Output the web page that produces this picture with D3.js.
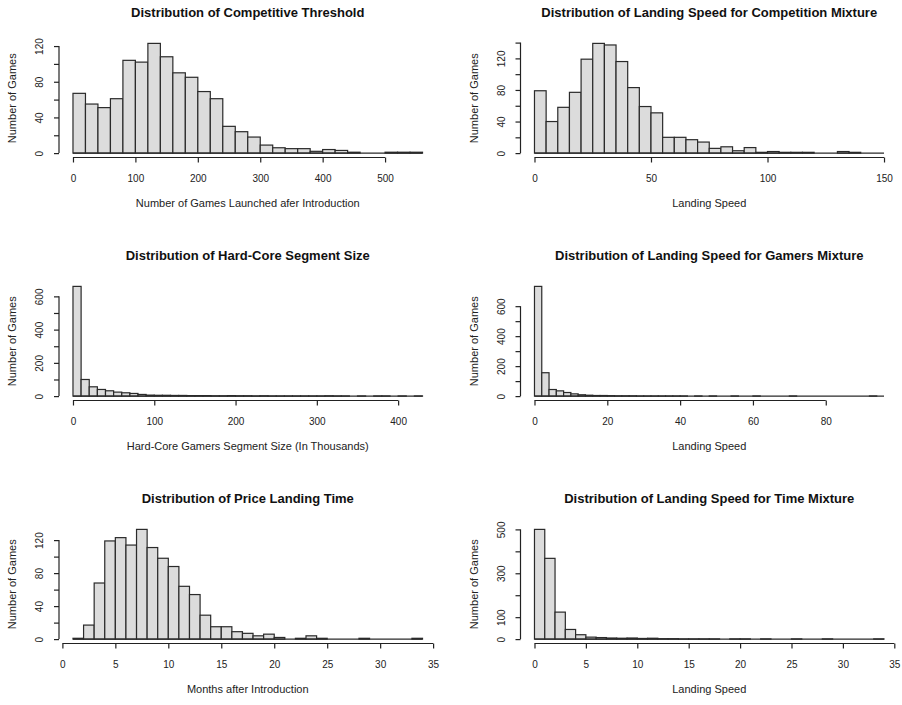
<!DOCTYPE html>
<html>
<head>
<meta charset="utf-8">
<script src="https://cdn.jsdelivr.net/npm/d3@7/dist/d3.min.js"></script>
<style>
  html, body { margin: 0; padding: 0; background: #fff; }
  svg { display: block; font-family: "Liberation Sans", Arial, sans-serif; }
</style>
</head>
<body>
<svg id="chart" width="902" height="705"></svg>
<script>
// ---- Histogram counts (games per bin) ----
const thresholdCounts = [67, 55, 51, 61, 104, 102, 123, 108, 90, 85, 69, 61, 30, 24, 18, 9, 6, 5, 5, 2, 4, 3, 1, 0, 0, 1, 1, 1];
const competitionSpeedCounts = [79, 40, 58, 77, 119, 139, 137, 116, 83, 59, 51, 20, 20, 17, 14, 6, 8, 3, 7, 1, 2, 1, 1, 1, 0, 0, 2, 1, 0, 0];
const hardCoreCounts = [660, 100, 56, 40, 32, 24, 20, 16, 10, 6, 5, 5, 4, 4, 3, 3, 3, 2, 2, 3, 2, 2, 1, 2, 1, 1, 1, 1, 1, 1, 1, 2, 1, 1, 0, 1, 0, 1, 1, 0, 1, 0, 1];
const gamersSpeedCounts = [732, 156, 44, 35, 24, 15, 9, 6, 4, 4, 3, 2, 2, 2, 1, 1, 1, 1, 1, 1, 1, 0, 1, 0, 1, 0, 0, 1, 0, 0, 1, 0, 0, 0, 0, 1, 0, 0, 0, 0, 0, 0, 0, 0, 0, 0, 1, 0];
const landingTimeCounts = [1, 17, 68, 119, 123, 114, 133, 111, 98, 88, 64, 54, 29, 15, 15, 9, 7, 4, 6, 2, 0, 1, 4, 1, 0, 0, 0, 1, 0, 0, 0, 0, 1];
const timeSpeedCounts = [500, 368, 123, 44, 20, 9, 7, 5, 4, 5, 3, 4, 2, 2, 1, 1, 1, 1, 0, 1, 1, 0, 1, 0, 0, 1, 0, 0, 1, 0, 0, 0, 0, 1];

// ---- Bin definitions: [first break, bin width] ----
const thresholdBins = [0, 20];
const competitionSpeedBins = [0, 5];
const hardCoreBins = [0, 10];
const gamersSpeedBins = [0, 2];
const landingTimeBins = [1, 1];
const timeSpeedBins = [0, 1];

// ---- Axis ticks ----
const thresholdXTicks = [0, 100, 200, 300, 400, 500];
const competitionSpeedXTicks = [0, 50, 100, 150];
const hardCoreXTicks = [0, 100, 200, 300, 400];
const gamersSpeedXTicks = [0, 20, 40, 60, 80];
const landingTimeXTicks = [0, 5, 10, 15, 20, 25, 30, 35];
const timeSpeedXTicks = [0, 5, 10, 15, 20, 25, 30, 35];

const thresholdYTicks = [0, 20, 40, 60, 80, 100, 120];
const competitionSpeedYTicks = [0, 20, 40, 60, 80, 100, 120, 140];
const hardCoreYTicks = [0, 100, 200, 300, 400, 500, 600];
const gamersSpeedYTicks = [0, 100, 200, 300, 400, 500, 600];
const landingTimeYTicks = [0, 20, 40, 60, 80, 100, 120];
const timeSpeedYTicks = [0, 100, 200, 300, 400, 500];

const thresholdYLabels = [0, 40, 80, 120];
const competitionSpeedYLabels = [0, 40, 80, 120];
const hardCoreYLabels = [0, 200, 400, 600];
const gamersSpeedYLabels = [0, 200, 400, 600];
const landingTimeYLabels = [0, 40, 80, 120];
const timeSpeedYLabels = [0, 100, 300, 500];

// ---- Titles and axis titles ----
const titles = [
  "Distribution of Competitive Threshold",
  "Distribution of Landing Speed for Competition Mixture",
  "Distribution of Hard-Core Segment Size",
  "Distribution of Landing Speed for Gamers Mixture",
  "Distribution of Price Landing Time",
  "Distribution of Landing Speed for Time Mixture"
];
const xTitles = [
  "Number of Games Launched afer Introduction",
  "Landing Speed",
  "Hard-Core Gamers Segment Size (In Thousands)",
  "Landing Speed",
  "Months after Introduction",
  "Landing Speed"
];
const yTitle = "Number of Games";

const panels = [
  { counts: thresholdCounts, bins: thresholdBins, xTicks: thresholdXTicks, yTicks: thresholdYTicks, yLabels: thresholdYLabels },
  { counts: competitionSpeedCounts, bins: competitionSpeedBins, xTicks: competitionSpeedXTicks, yTicks: competitionSpeedYTicks, yLabels: competitionSpeedYLabels },
  { counts: hardCoreCounts, bins: hardCoreBins, xTicks: hardCoreXTicks, yTicks: hardCoreYTicks, yLabels: hardCoreYLabels },
  { counts: gamersSpeedCounts, bins: gamersSpeedBins, xTicks: gamersSpeedXTicks, yTicks: gamersSpeedYTicks, yLabels: gamersSpeedYLabels },
  { counts: landingTimeCounts, bins: landingTimeBins, xTicks: landingTimeXTicks, yTicks: landingTimeYTicks, yLabels: landingTimeYLabels },
  { counts: timeSpeedCounts, bins: timeSpeedBins, xTicks: timeSpeedXTicks, yTicks: timeSpeedYTicks, yLabels: timeSpeedYLabels }
];

// ---- Layout: 3 rows x 2 columns of plot regions ----
const colLeft = [59, 520.5];
const rowTop = [39, 282, 525];
const plotW = 377.5;
const plotH = 118.5;
const ink = "#222";
const barStroke = "#2a2a2a";

const svg = d3.select("#chart");

panels.forEach((p, i) => {
  const left = colLeft[i % 2];
  const top = rowTop[Math.floor(i / 2)];
  const right = left + plotW;
  const bottom = top + plotH;

  const [b0, bw] = p.bins;
  const b1 = b0 + bw * p.counts.length;
  const xPad = 0.04 * (b1 - b0);
  const yMax = d3.max(p.counts);
  const yPad = 0.04 * yMax;

  const x = d3.scaleLinear().domain([b0 - xPad, b1 + xPad]).range([left, right]);
  const y = d3.scaleLinear().domain([-yPad, yMax + yPad]).range([bottom, top]);

  const g = svg.append("g");

  // bars
  g.selectAll("rect.bar")
    .data(p.counts)
    .join("rect")
    .attr("class", "bar")
    .attr("x", (d, k) => x(b0 + k * bw))
    .attr("width", (d, k) => x(b0 + (k + 1) * bw) - x(b0 + k * bw))
    .attr("y", d => y(d))
    .attr("height", d => y(0) - y(d))
    .attr("fill", "#dcdcdc")
    .attr("stroke", barStroke)
    .attr("stroke-width", 1.2);

  // empty bins still show as a flat edge along the zero line
  g.append("line")
    .attr("x1", x(b0)).attr("x2", x(b1))
    .attr("y1", y(0)).attr("y2", y(0))
    .attr("stroke", barStroke).attr("stroke-width", 1.2);

  // x axis (line spans first to last tick)
  const xAxis = d3.axisBottom(x).tickValues(p.xTicks).tickSize(5).tickSizeOuter(0).tickPadding(0);
  const gx = g.append("g").attr("transform", `translate(0,${bottom})`).call(xAxis);
  gx.select(".domain").remove();
  gx.append("line")
    .attr("x1", x(p.xTicks[0])).attr("x2", x(p.xTicks[p.xTicks.length - 1]))
    .attr("stroke", ink).attr("stroke-width", 1.2);
  gx.selectAll(".tick line").attr("stroke", ink).attr("stroke-width", 1.2);
  gx.selectAll(".tick text")
    .attr("y", 24).attr("dy", null)
    .attr("fill", ink).attr("font-size", 10)
    .attr("font-family", "'Liberation Sans', Arial, sans-serif");

  // y axis with rotated labels
  const yAxis = d3.axisLeft(y).tickValues(p.yTicks).tickSize(5).tickSizeOuter(0)
    .tickFormat(d => p.yLabels.includes(d) ? d : "");
  const gy = g.append("g").attr("transform", `translate(${left},0)`).call(yAxis);
  gy.select(".domain").remove();
  gy.append("line")
    .attr("y1", y(p.yTicks[0])).attr("y2", y(p.yTicks[p.yTicks.length - 1]))
    .attr("stroke", ink).attr("stroke-width", 1.2);
  gy.selectAll(".tick line").attr("stroke", ink).attr("stroke-width", 1.2);
  gy.selectAll(".tick text")
    .attr("x", null).attr("dy", null)
    .attr("text-anchor", "middle")
    .attr("transform", "translate(-16,0) rotate(-90)")
    .attr("fill", ink).attr("font-size", 10)
    .attr("font-family", "'Liberation Sans', Arial, sans-serif");

  // titles
  g.append("text")
    .attr("x", (left + right) / 2).attr("y", top - 21.7)
    .attr("text-anchor", "middle")
    .attr("font-size", 13).attr("font-weight", "bold").attr("fill", "#111")
    .text(titles[i]);

  g.append("text")
    .attr("x", (left + right) / 2).attr("y", bottom + 49.5)
    .attr("text-anchor", "middle")
    .attr("font-size", 11).attr("fill", ink)
    .text(xTitles[i]);

  g.append("text")
    .attr("transform", `translate(${left - 43},${(top + bottom) / 2}) rotate(-90)`)
    .attr("text-anchor", "middle")
    .attr("font-size", 11).attr("fill", ink)
    .text(yTitle);
});
</script>
</body>
</html>
